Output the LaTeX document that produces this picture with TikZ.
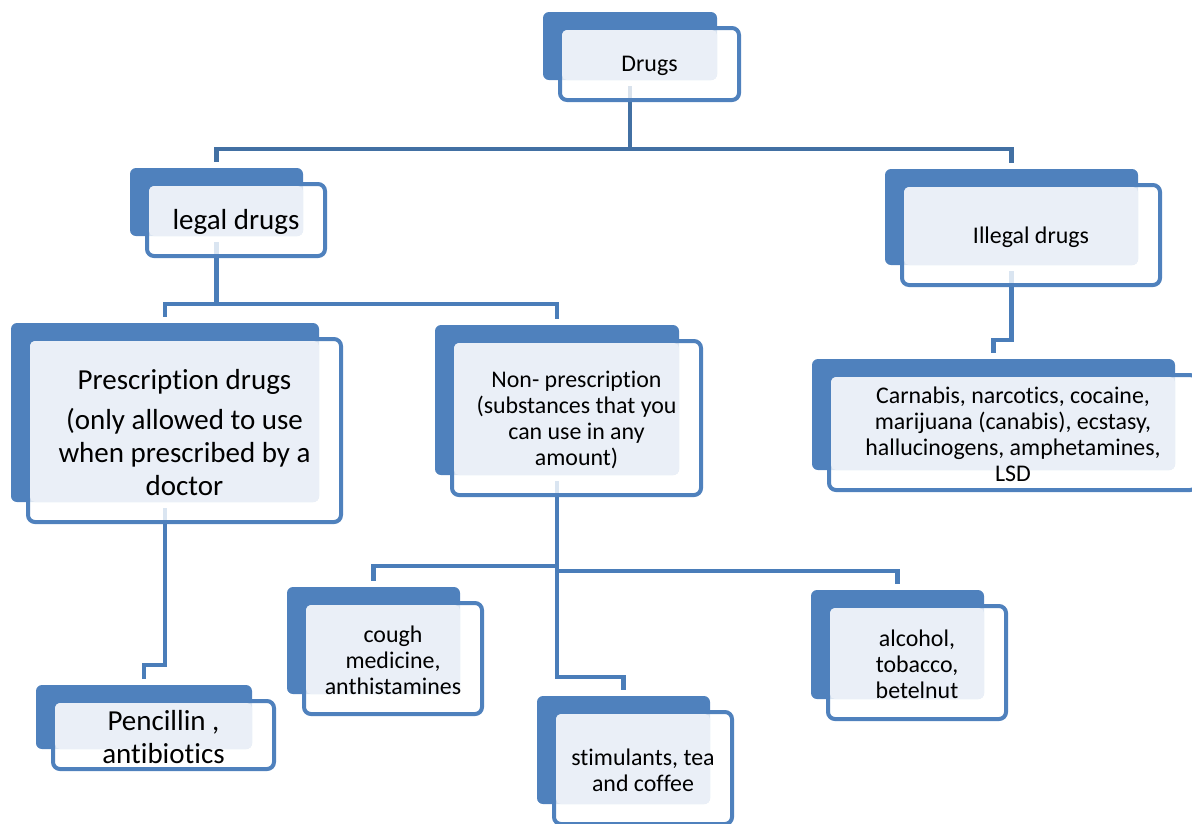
\documentclass[tikz,border=0pt]{standalone}
\usepackage{fontspec}
\setmainfont{Carlito}[Ligatures=NoCommon]
\usepackage{tikz}
\usetikzlibrary{backgrounds}

\definecolor{boxblue}{RGB}{79,129,189}
\definecolor{boxlight}{RGB}{234,239,247}
\definecolor{linktop}{RGB}{66,112,163}
\definecolor{linkblue}{RGB}{74,125,185}

\tikzset{
	darkbox/.style={fill=boxblue,rounded corners=0.12cm,inner sep=0,outer sep=0},
	framebox/.style={draw=boxblue,line width=0.08cm,fill=white,fill opacity=0.8,rounded corners=0.14cm,inner sep=0,outer sep=0},
	lightbox/.style={fill=boxlight,rounded corners=0.1cm},
	boxtext/.style={align=center,inner sep=0,yshift=-0.04cm,font=\fontsize{13.6}{14.8}\selectfont},
	bigtext/.style={font=\fontsize{16.5}{18.7}\selectfont},
	link/.style={draw=linkblue,line width=0.09cm,shorten <=0.12cm,shorten >=0.12cm},
	toplink/.style={link,draw=linktop}
}

% [text style]{name}{x1}{y1}{x2}{y2}{text} -- corners of the dark back box
\newcommand{\drugbox}[7][]{%
	\node[darkbox,minimum width={(#5-#3)*0.02cm},minimum height={(#6-#4)*0.02cm}] (#2) at ({(#3+#5)/2},{(#4+#6)/2}) {};
	\node[framebox,minimum width={(#5-#3+5)*0.02cm},minimum height={(#6-#4+4)*0.02cm}] (#2-frame) at ({(#3+#5)/2+19.5},{(#4+#6)/2+18}) {};
	\fill[lightbox] (#3+19,#4+18) rectangle (#5,#6);
	\node[boxtext,#1] (#2-text) at (#2-frame) {#7};
}

\begin{document}
\begin{tikzpicture}[x=0.02cm,y=-0.02cm]
		\useasboundingbox (0,0) rectangle (1192,823);
		%boxes
		\drugbox{drugs}{543}{12}{717}{80}{Drugs}
		\drugbox[bigtext]{legal}{130}{168}{303}{236}{legal drugs}
		\drugbox{illegal}{885}{169}{1138}{265}{Illegal drugs}
		\drugbox[bigtext]{prescr}{11}{323}{319}{502}{Prescription drugs\\[4pt](only allowed to use\\when prescribed by a\\doctor}
		\drugbox{nonpres}{435}{325}{679}{475}{Non- prescription\\(substances that you\\can use in any\\amount)}
		\drugbox{hard}{812}{359}{1175}{470}{Carnabis, narcotics, cocaine,\\marijuana (canabis), ecstasy,\\hallucinogens, amphetamines,\\LSD}
		\drugbox[bigtext]{pencil}{36}{685}{252}{749}{Pencillin ,\\antibiotics}
		\drugbox{cough}{287}{587}{460}{694}{cough\\medicine,\\anthistamines}
		\drugbox{stim}{537}{696}{710}{804}{stimulants, tea\\and coffee}
		\drugbox{alcohol}{811}{590}{984}{699}{alcohol,\\tobacco,\\betelnut}
		%connectors
		\begin{scope}[on background layer]
			\draw[toplink] (drugs.south) -- ++(0,69) -| (legal.north);
			\draw[toplink] (drugs.south) -- ++(0,69) -| (illegal.north);
			\draw[link] (legal.south) -- ++(0,68) -| (prescr.north);
			\draw[link] (legal.south) -- ++(0,68) -| (nonpres.north);
			\draw[link] (illegal.south) -- ++(0,75) -| (hard.north);
			\draw[link] (prescr.south) -- ++(0,163) -| (pencil.north);
			\draw[link] (nonpres.south) -- ++(0,91) -| (cough.north);
			\draw[link] (nonpres.south) -- ++(0,96) -| (alcohol.north);
			\draw[link] (nonpres.south) -- ++(0,202) -| (stim.north);
		\end{scope}
\end{tikzpicture}
\end{document}
